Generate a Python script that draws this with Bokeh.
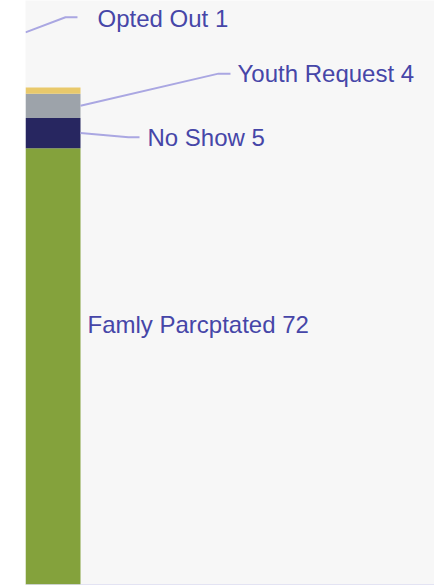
from bokeh.plotting import figure
from bokeh.models import ColumnDataSource, Span, Range1d
from bokeh.core.properties import value
from bokeh.embed import file_html
from bokeh.resources import INLINE

# ---- data ----
categories = ["Famly Parcptated", "No Show", "Youth Request", "Opted Out"]
counts = [72, 5, 4, 1]
colors = ["#84a23c", "#272660", "#9da3aa", "#e9c96b"]

# stacked segment bounds
bottoms, tops = [], []
acc = 0
for c in counts:
    bottoms.append(acc)
    acc += c
    tops.append(acc)

W, H = 434, 585
p = figure(width=W, height=H, output_backend="svg", toolbar_location=None,
           x_range=Range1d(-0.5, -0.5 + 409 / 55), y_range=Range1d(-1 / 6.06, 584 / 6.06),
           min_border_left=25, min_border_right=0, min_border_top=0, min_border_bottom=0)
p.background_fill_color = "#f7f7f7"
p.border_fill_color = "white"
p.outline_line_color = None
p.xaxis.visible = False
p.yaxis.visible = False
p.xgrid.visible = False
p.ygrid.visible = False

src = ColumnDataSource(dict(x=[0] * len(counts), bottom=bottoms, top=tops, color=colors))
p.vbar(x="x", bottom="bottom", top="top", width=1, fill_color="color", line_color=None, source=src)

p.add_layout(Span(location=0, dimension="width", line_color="#d6d6f0", line_alpha=0.6, line_width=1))

mid = [(b + t) / 2 for b, t in zip(bottoms, tops)]
lead = "#aaa7e2"
txt = "#4646a8"

# leader lines (layout positions)
p.line([-0.5, 0.227, 0.445], [91.1, 93.6, 93.6], line_color=lead, line_width=2)
p.line([0.5, 3.009, 3.227], [mid[2], 84.3, 84.3], line_color=lead, line_width=2)
p.line([0.5, 1.373, 1.573], [mid[1], 73.8, 73.8], line_color=lead, line_width=2)

labels = [f"{c} {n}" for c, n in zip(categories, counts)]
lx = [0.627, 1.718, 3.355, 0.809]
ly = [42.9, 73.8, 84.3, 93.4]
p.text(x=lx, y=ly, text=labels, text_color=txt, text_font=value("Liberation Sans"),
       text_font_size="24px", text_baseline="alphabetic", text_align="left")

open("out.html", "w").write(file_html(p, INLINE))
